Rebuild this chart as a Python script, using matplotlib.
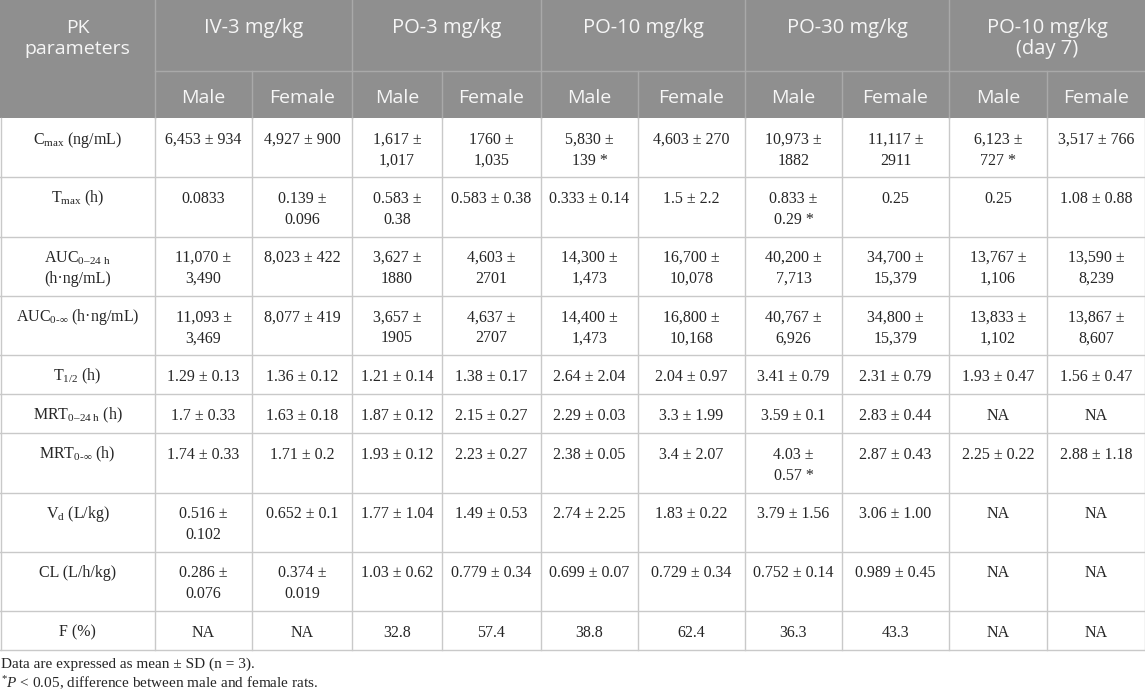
import matplotlib
matplotlib.use("Agg")
import matplotlib.pyplot as plt
from matplotlib.patches import Rectangle

plt.rcParams['mathtext.fontset'] = 'custom'
plt.rcParams['mathtext.rm'] = 'Liberation Serif'
plt.rcParams['mathtext.it'] = 'Liberation Serif:italic'
plt.rcParams['mathtext.sf'] = 'Liberation Serif'

# table content
groups = ["IV-3 mg/kg", "PO-3 mg/kg", "PO-10 mg/kg", "PO-30 mg/kg", "PO-10 mg/kg\n(day 7)"]
sexes = ["Male", "Female"]
corner = "PK\nparameters"

params = [
    r"C$_{\mathrm{max}}$ (ng/mL)",
    r"T$_{\mathrm{max}}$ (h)",
    "AUC$_{\\mathrm{0–24\\ h}}$\n(h·ng/mL)",
    r"AUC$_{\mathrm{0‐∞}}$ (h·ng/mL)",
    r"T$_{\mathrm{1/2}}$ (h)",
    r"MRT$_{\mathrm{0–24\ h}}$ (h)",
    r"MRT$_{\mathrm{0‐∞}}$ (h)",
    r"V$_{\mathrm{d}}$ (L/kg)",
    "CL (L/h/kg)",
    "F (%)",
]

cmax = ["6,453 ± 934", "4,927 ± 900", "1,617 ±\n1,017", "1760 ±\n1,035", "5,830 ±\n139 *",
        "4,603 ± 270", "10,973 ±\n1882", "11,117 ±\n2911", "6,123 ±\n727 *", "3,517 ± 766"]
tmax = ["0.0833", "0.139 ±\n0.096", "0.583 ±\n0.38", "0.583 ± 0.38", "0.333 ± 0.14",
        "1.5 ± 2.2", "0.833 ±\n0.29 *", "0.25", "0.25", "1.08 ± 0.88"]
auc24 = ["11,070 ±\n3,490", "8,023 ± 422", "3,627 ±\n1880", "4,603 ±\n2701", "14,300 ±\n1,473",
         "16,700 ±\n10,078", "40,200 ±\n7,713", "34,700 ±\n15,379", "13,767 ±\n1,106", "13,590 ±\n8,239"]
aucinf = ["11,093 ±\n3,469", "8,077 ± 419", "3,657 ±\n1905", "4,637 ±\n2707", "14,400 ±\n1,473",
          "16,800 ±\n10,168", "40,767 ±\n6,926", "34,800 ±\n15,379", "13,833 ±\n1,102", "13,867 ±\n8,607"]
thalf = ["1.29 ± 0.13", "1.36 ± 0.12", "1.21 ± 0.14", "1.38 ± 0.17", "2.64 ± 2.04",
         "2.04 ± 0.97", "3.41 ± 0.79", "2.31 ± 0.79", "1.93 ± 0.47", "1.56 ± 0.47"]
mrt24 = ["1.7 ± 0.33", "1.63 ± 0.18", "1.87 ± 0.12", "2.15 ± 0.27", "2.29 ± 0.03",
         "3.3 ± 1.99", "3.59 ± 0.1", "2.83 ± 0.44", "NA", "NA"]
mrtinf = ["1.74 ± 0.33", "1.71 ± 0.2", "1.93 ± 0.12", "2.23 ± 0.27", "2.38 ± 0.05",
          "3.4 ± 2.07", "4.03 ±\n0.57 *", "2.87 ± 0.43", "2.25 ± 0.22", "2.88 ± 1.18"]
vd = ["0.516 ±\n0.102", "0.652 ± 0.1", "1.77 ± 1.04", "1.49 ± 0.53", "2.74 ± 2.25",
      "1.83 ± 0.22", "3.79 ± 1.56", "3.06 ± 1.00", "NA", "NA"]
cl = ["0.286 ±\n0.076", "0.374 ±\n0.019", "1.03 ± 0.62", "0.779 ± 0.34", "0.699 ± 0.07",
      "0.729 ± 0.34", "0.752 ± 0.14", "0.989 ± 0.45", "NA", "NA"]
fbio = ["NA", "NA", "32.8", "57.4", "38.8", "62.4", "36.3", "43.3", "NA", "NA"]
rows = [cmax, tmax, auc24, aucinf, thalf, mrt24, mrtinf, vd, cl, fbio]

notes = ["Data are expressed as mean ± SD (n = 3).",
         r"$^{*}\mathit{P}$ < 0.05, difference between male and female rats."]

# layout (pixels)
W, H = 1145, 691
col_edges = [0, 155, 252, 352, 442, 541, 638, 745, 842, 949, 1047, 1145]
head_mid, head_bot = 71, 118
line_h1, line_h2 = 39, 59.3
head_bg = "#8f8f8f"
head_line = "#a9a9a9"
grid = "#c9c9c9"
body_col = "#262626"

fig = plt.figure(figsize=(W / 100, H / 100), dpi=100)
ax = fig.add_axes([0, 0, 1, 1])
ax.set_xlim(0, W)
ax.set_ylim(H, 0)
ax.axis('off')

# header
ax.add_patch(Rectangle((0, 0), W, head_bot, color=head_bg, lw=0))
ax.plot([col_edges[1], W], [head_mid, head_mid], color=head_line, lw=1)
for i, x in enumerate(col_edges[1:-1]):
    top = 0 if i % 2 == 0 else head_mid
    ax.plot([x, x], [top, head_bot], color=head_line, lw=1)

hfont = dict(family='Open Sans', size=14, color='#f6f6f6', ha='center', va='baseline')
for k, ln in enumerate(corner.split("\n")):
    ax.text(col_edges[1] / 2, 33 + k * 21, ln, **hfont)
for g, name in enumerate(groups):
    xc = (col_edges[1 + 2 * g] + col_edges[3 + 2 * g]) / 2
    for k, ln in enumerate(name.split("\n")):
        ax.text(xc, 33 + k * 21, ln, **dict(hfont, size=14.5))
    for s, sx in enumerate(sexes):
        xs = (col_edges[1 + 2 * g + s] + col_edges[2 + 2 * g + s]) / 2
        ax.text(xs, 103, sx, **hfont)

# body
bfont = dict(family='Liberation Serif', size=11.5, color=body_col, ha='center', va='baseline')
y = head_bot
row_edges = [y]
for label, vals in zip(params, rows):
    nlines = max(len(v.split("\n")) for v in vals + [label])
    for k, ln in enumerate(label.split("\n")):
        ax.text(col_edges[1] / 2, y + 25.5 + k * 21, ln, **bfont)
    for j, v in enumerate(vals):
        xc = (col_edges[j + 1] + col_edges[j + 2]) / 2
        for k, ln in enumerate(v.split("\n")):
            ax.text(xc, y + 25.5 + k * 21, ln, **bfont)
    y += line_h2 if nlines > 1 else line_h1
    row_edges.append(y)

for ry in row_edges[1:]:
    ax.plot([0, W], [ry, ry], color=grid, lw=1)
for x in col_edges:
    xx = min(max(x, 0.5), W - 0.5)
    ax.plot([xx, xx], [head_bot, row_edges[-1]], color=grid, lw=1)

for k, note in enumerate(notes):
    ax.text(1, row_edges[-1] + 18 + k * 20, note, family='Liberation Serif', size=11,
            color=body_col, ha='left', va='baseline')

fig.savefig("out.png", dpi=100)
